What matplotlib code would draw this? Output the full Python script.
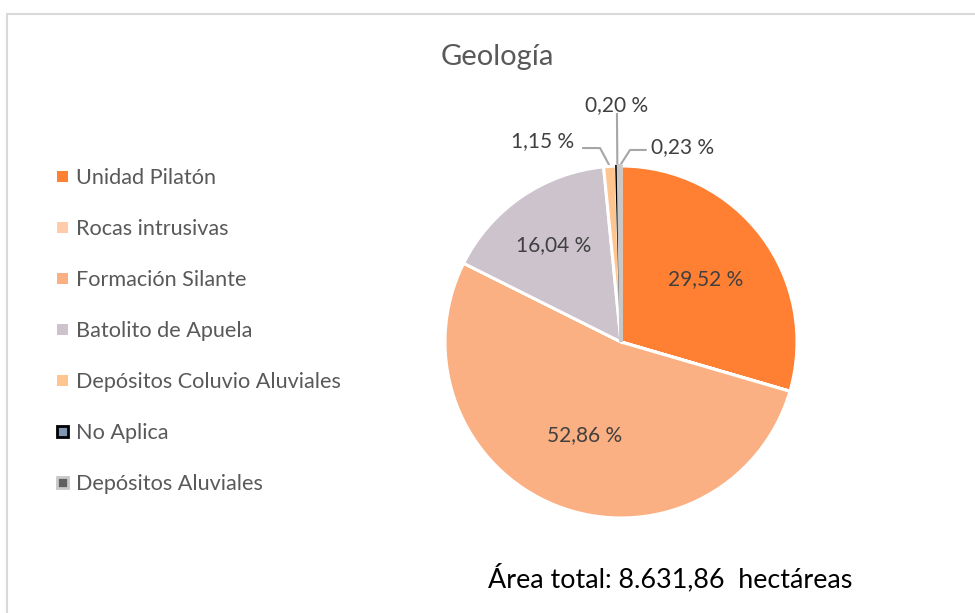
import numpy as np
import matplotlib.pyplot as plt
from matplotlib.patches import Patch, Rectangle

plt.rcParams['font.family'] = ['Lato', 'DejaVu Sans']

# Data
categories = ["Unidad Pilatón", "Rocas intrusivas", "Formación Silante",
              "Batolito de Apuela", "Depósitos Coluvio Aluviales",
              "No Aplica", "Depósitos Aluviales"]
percent = [29.52, 0.0, 52.86, 16.04, 1.15, 0.20, 0.23]
colors = ["#FF8033", "#FFCBA8", "#FBB083", "#CCC3CC", "#FFC591", "#7F97B2", "#606060"]
edges = ["white", "white", "white", "white", "white", "black", "#C8C8C8"]
title = "Geología"
footer = "Área total: 8.631,86  hectáreas"

W, H = 975, 613
fig = plt.figure(figsize=(W / 100, H / 100), dpi=100)

# chart frame
fig.patches.append(Rectangle((7 / W, -0.1), 1.1, (H - 14) / H + 0.1, transform=fig.transFigure,
                             fill=False, edgecolor="#D9D9D9", linewidth=1.5))

cx, cy, r = 621, 342, 176
ax = fig.add_axes([(cx - r) / W, (H - cy - r) / H, 2 * r / W, 2 * r / H])

vals = [max(p, 1e-6) for p in percent]
wedges, _ = ax.pie(vals, colors=colors, startangle=90, counterclock=False,
                   wedgeprops=dict(edgecolor="white", linewidth=2.2))
for w, ec in zip(wedges, edges):
    w.set_edgecolor(ec)
wedges[5].set_linewidth(1.6)
wedges[6].set_linewidth(2.5)
ax.set_xlim(-1, 1)
ax.set_ylim(-1, 1)
ax.set_aspect("auto")

lab_col = "#404040"
lab_fs = 15
total = sum(percent)
cum = np.cumsum([0] + percent)
mids = [90 - 360 * (cum[i] + percent[i] / 2) / total for i in range(len(percent))]


def lbl(p):
    return f"{p:.2f} %".replace(".", ",")


# inside labels
inner = {0: 0.6, 2: 0.57, 3: 0.67}
for i, d in inner.items():
    a = np.deg2rad(mids[i])
    ax.text(d * np.cos(a), d * np.sin(a), lbl(percent[i]), ha="center", va="center",
            fontsize=lab_fs, color=lab_col)

# outside labels with leader lines
line_col = "#A6A6A6"
out = {4: ((-0.443, 1.142), [(-0.215, 1.102), (-0.119, 1.102)]),
       5: ((-0.023, 1.345), [(-0.023, 1.295)]),
       6: ((0.35, 1.108), [(0.14, 1.091), (0.051, 1.091)])}
for i, (tpos, pts) in out.items():
    a = np.deg2rad(mids[i])
    anchor = (np.cos(a), np.sin(a))
    xs = [p[0] for p in pts] + [anchor[0]]
    ys = [p[1] for p in pts] + [anchor[1]]
    ax.plot(xs, ys, color=line_col, linewidth=1.5, clip_on=False, zorder=0)
    ax.text(tpos[0], tpos[1], lbl(percent[i]), ha="center", va="center",
            fontsize=lab_fs, color=lab_col, clip_on=False)

fig.text(497 / W, 1 - 57 / H, title, ha="center", va="center", fontsize=21, color="#595959")
fig.text(670 / W, 1 - 578 / H, footer, ha="center", va="center", fontsize=19.4, color="black")

handles = []
for i in range(len(categories)):
    lw = 0
    if i in (5, 6):
        lw = 2
    handles.append(Patch(facecolor=colors[i], edgecolor=edges[i] if lw else colors[i], linewidth=lw))
leg = fig.legend(handles, categories, loc="upper left", bbox_to_anchor=(57 / W, 1 - 168 / H),
                 frameon=False, fontsize=15.6, labelspacing=1.43, handlelength=0.5,
                 handleheight=0.42, handletextpad=0.4, borderpad=0, borderaxespad=0,
                 labelcolor="#595959")

fig.savefig("out.png", dpi=100)
